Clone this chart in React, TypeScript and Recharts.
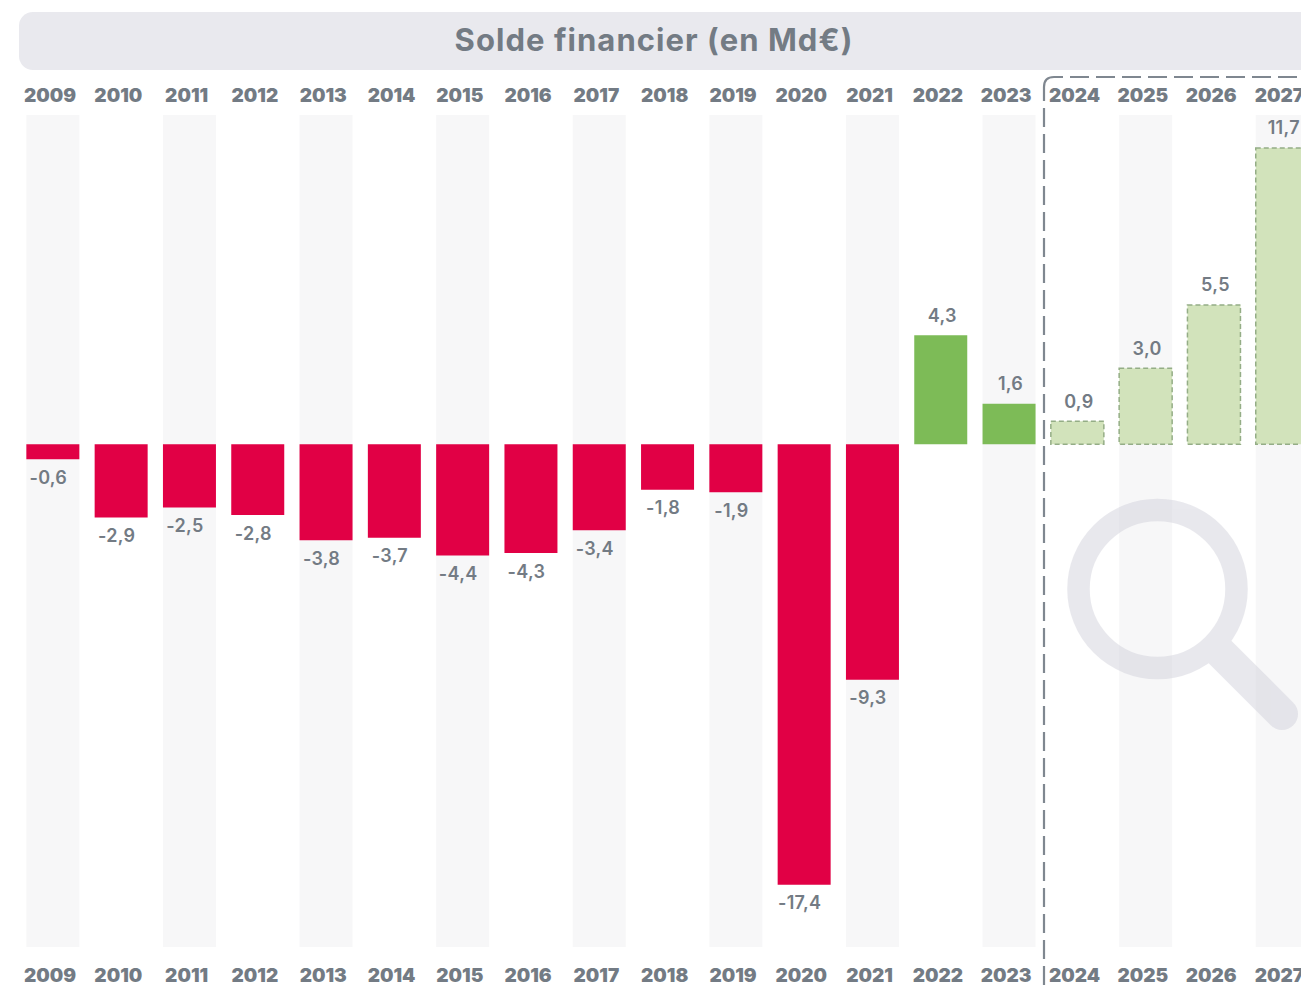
import { BarChart, Bar, XAxis, YAxis, Cell, LabelList } from "recharts";

const YEARS = ["2009", "2010", "2011", "2012", "2013", "2014", "2015", "2016", "2017", "2018", "2019", "2020", "2021", "2022", "2023", "2024", "2025", "2026", "2027"];
const SOLDE = [-0.6, -2.9, -2.5, -2.8, -3.8, -3.7, -4.4, -4.3, -3.4, -1.8, -1.9, -17.4, -9.3, 4.3, 1.6, 0.9, 3.0, 5.5, 11.7];
const PROJECTED = ["2024", "2025", "2026", "2027"];

const TEXT = "#737b84";
const FONT = "Inter, sans-serif";

const chartData = YEARS.map((year, i) => ({ year, solde: SOLDE[i] }));

const fr = (v: number) => v.toFixed(1).replace(".", ",");

function barStyle(year: string, v: number) {
  if (PROJECTED.includes(year)) {
    return { fill: "#d2e3bb", stroke: "#94ad86", strokeWidth: 1.5, strokeDasharray: "5 3" };
  }
  return { fill: v < 0 ? "#e10045" : "#7dbb57" };
}

function Stripe(props: any) {
  if (props.index % 2 !== 0) return <g />;
  return <rect x={props.x} y={props.y} width={props.width} height={props.height} fill="#f7f7f8" />;
}

function ValueLabel(props: any) {
  const { x, y, width, height, value } = props;
  const neg = value < 0;
  const edge = neg ? Math.max(y, y + height) : Math.min(y, y + height);
  return (
    <text
      x={x + width / 2 + (neg ? -4.5 : 1.5)}
      y={edge + (neg ? 18 : -20)}
      textAnchor="middle"
      dominantBaseline="central"
      fill={TEXT}
      fontFamily={FONT}
      fontSize={18}
      fontWeight={600}
      letterSpacing={0.3}
    >
      {fr(value)}
    </text>
  );
}

const yearTick = { fill: TEXT, fontFamily: FONT, fontSize: 19, fontWeight: 900 };

export default function App() {
  return (
    <div style={{ position: "fixed", left: 0, top: 0, width: 1301, height: 987, overflow: "hidden", background: "#fff" }}>
      <div
        style={{
          position: "absolute", left: 19, top: 12, width: 1400, height: 58, borderRadius: 14,
          background: "#e9e9ee",
        }}
      />
      <div
        style={{
          position: "absolute", left: 354, width: 600, top: 12, height: 58, lineHeight: "55px", textAlign: "center",
          fontFamily: FONT, fontWeight: 700, fontSize: 31, letterSpacing: 1.05, color: TEXT,
        }}
      >
        Solde financier (en Md€)
      </div>
      <div style={{ position: "absolute", left: 0, top: 0 }}>
        <BarChart
          width={1330}
          height={987}
          data={chartData}
          barSize={53}
          margin={{ top: 85, right: 13.95, bottom: 10, left: 18.35 }}
        >
          <XAxis xAxisId="top" orientation="top" dataKey="year" height={30} interval={0} axisLine={false} tickLine={false} tickMargin={7} dx={-2.5} tick={yearTick} />
          <XAxis xAxisId="bottom" orientation="bottom" dataKey="year" height={30} interval={0} axisLine={false} tickLine={false} tickMargin={16} dx={-2.5} tick={yearTick} />
          <YAxis hide domain={[-19.86, 13]} />
          <Bar xAxisId="top" dataKey="solde" background={<Stripe />} isAnimationActive={false}>
            {chartData.map((d) => (
              <Cell key={d.year} {...barStyle(d.year, d.solde)} />
            ))}
            <LabelList dataKey="solde" content={<ValueLabel />} />
          </Bar>
        </BarChart>
      </div>
      <svg width={1301} height={987} style={{ position: "absolute", left: 0, top: 0, pointerEvents: "none" }}>
        <g fill="none" stroke="#7f8790" strokeWidth={2.2}>
          <path d="M1063 77 H1054 Q1044 77 1044 87 V101" />
          <path d="M1070 77 H1301" strokeDasharray="19 7" />
          <path d="M1044 108 V987" strokeDasharray="19 7" />
        </g>
        <g opacity={0.4} fill="none" stroke="#c8c8d4">
          <circle cx={1157.5} cy={589} r={79} strokeWidth={22.5} />
          <path d="M1218 650 L1282 714" strokeWidth={32} strokeLinecap="round" />
        </g>
      </svg>
    </div>
  );
}
